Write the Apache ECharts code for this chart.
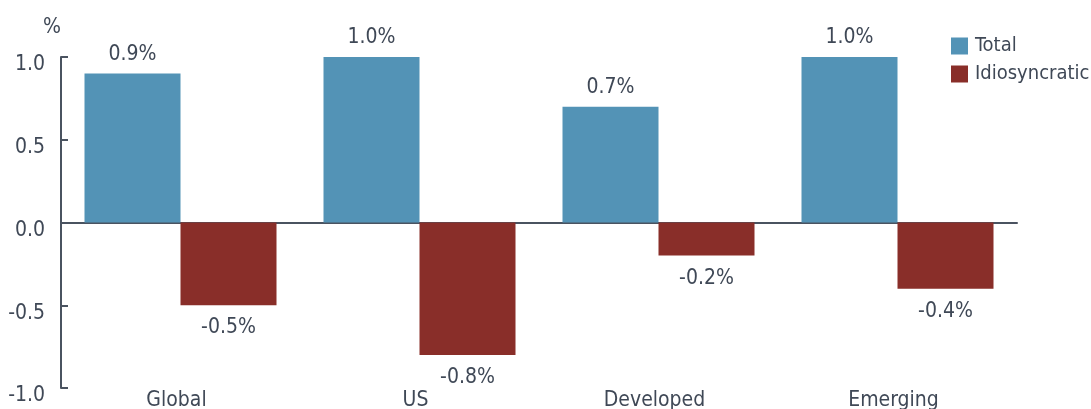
<!DOCTYPE html>
<html><head><meta charset="utf-8">
<script src="https://cdn.jsdelivr.net/npm/echarts@6/dist/echarts.min.js"></script>
<style>html,body{margin:0;padding:0;background:#fff}#c{width:1091px;height:409px}</style>
</head><body><div id="c"></div>
<script>
const categories = ['Global', 'US', 'Developed', 'Emerging'];
const totalValues = [0.9, 1.0, 0.7, 1.0];
const idioValues = [-0.5, -0.8, -0.2, -0.4];
const yTicks = [-1.0, -0.5, 0.0, 0.5, 1.0];

const FONT = '"DejaVu Sans Condensed", "DejaVu Sans", sans-serif';
const FS = 21;
const TXT = '#3f4856';
const AX = '#4a5360';

const chart = echarts.init(document.getElementById('c'));
chart.setOption({
  animation: false,
  textStyle: { fontFamily: FONT },
  grid: { left: 61, right: 74, top: 57, bottom: 21, containLabel: false, outerBoundsMode: 'none' },
  legend: {
    orient: 'vertical', left: 951, top: 36, padding: 0, itemWidth: 17, itemHeight: 17, itemGap: 8,
    textStyle: { fontFamily: FONT, fontSize: 20, color: TXT, padding: [0, 0, 0, 2] },
    data: [{ name: 'Total', icon: 'rect' }, { name: 'Idiosyncratic', icon: 'rect' }]
  },
  graphic: [{ type: 'text', left: 43, top: 17, style: { text: '%', font: FS + 'px ' + FONT, fill: TXT } }],
  xAxis: [
    { type: 'category', data: categories, axisLine: { onZero: true, lineStyle: { color: AX, width: 2 } },
      axisTick: { show: false }, axisLabel: { show: false } },
    { type: 'category', data: categories, position: 'bottom', axisLine: { show: false, onZero: false },
      axisTick: { show: false },
      axisLabel: { color: TXT, fontSize: FS, fontFamily: FONT, margin: 2, padding: [0, 8, 0, 0] } }
  ],
  yAxis: {
    type: 'value', min: -1, max: 1, interval: 0.5,
    axisLine: { show: true, lineStyle: { color: AX, width: 2 } },
    axisTick: { show: true, inside: true, length: 7, lineStyle: { color: AX, width: 2 } },
    splitLine: { show: false },
    axisLabel: { color: TXT, fontSize: FS, fontFamily: FONT, margin: 16,
      formatter: v => yTicks.includes(v) ? '{a|' + v.toFixed(1) + '}' : '',
      rich: { a: { fontSize: FS, fontFamily: FONT, color: TXT, padding: [16, 0, 0, 0] } } }
  },
  series: [
    { name: 'Total', type: 'bar', data: totalValues, barWidth: 96, barGap: '0%',
      itemStyle: { color: '#5393b6' },
      label: { show: true, position: 'top', distance: 9, formatter: p => p.value.toFixed(1) + '%',
        color: TXT, fontSize: FS, fontFamily: FONT } },
    { name: 'Idiosyncratic', type: 'bar', data: idioValues, barWidth: 96,
      itemStyle: { color: '#892e29' },
      label: { show: true, position: 'bottom', distance: 12, formatter: p => p.value.toFixed(1) + '%',
        color: TXT, fontSize: FS, fontFamily: FONT } }
  ]
});
</script></body></html>
